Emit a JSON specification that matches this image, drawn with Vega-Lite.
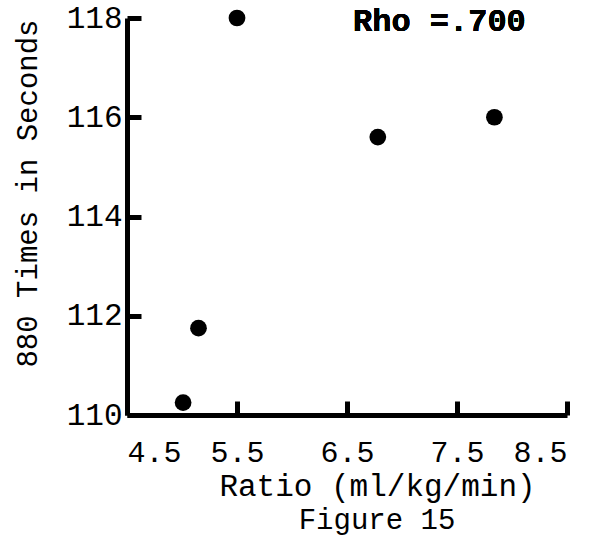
{
  "$schema": "https://vega.github.io/schema/vega-lite/v6.json",
  "width": 440,
  "height": 397,
  "autosize": "none",
  "padding": {"left": 127, "top": 18, "right": 31, "bottom": 129},
  "background": "white",
  "config": {
    "view": {"stroke": null},
    "font": "Liberation Mono",
    "title": {"font": "Liberation Mono", "fontSize": 29, "fontWeight": "normal", "color": "black"}
  },
  "title": {"text": "Figure 15", "orient": "bottom", "anchor": "middle", "offset": 5, "dx": 30},
  "data": {
    "values": [
      {"ratio": 5.01, "time": 110.25},
      {"ratio": 5.15, "time": 111.75},
      {"ratio": 5.5, "time": 118.0},
      {"ratio": 6.78, "time": 115.6},
      {"ratio": 7.84, "time": 116.0}
    ]
  },
  "layer": [
    {
      "mark": {"type": "point", "filled": true, "color": "black", "opacity": 1, "size": 280},
      "encoding": {
        "x": {
          "field": "ratio", "type": "quantitative",
          "scale": {"domain": [4.5, 8.5], "nice": false, "zero": false},
          "axis": {
            "values": [4.5, 5.5, 6.5, 7.5, 8.5],
            "format": ".1f",
            "grid": false,
            "domainColor": "black", "domainWidth": 5,
            "tickColor": "black", "tickWidth": 5, "tickSize": -14,
            "labelFont": "Liberation Mono", "labelFontSize": 30, "labelColor": "black",
            "labelPadding": 36,
            "labelBaseline": "top",
            "title": "Ratio (ml/kg/min)",
            "titleFont": "Liberation Mono", "titleFontSize": 31, "titleFontWeight": "normal", "titleColor": "black",
            "titlePadding": 4, "titleX": 250
          }
        },
        "y": {
          "field": "time", "type": "quantitative",
          "scale": {"domain": [110, 118], "nice": false, "zero": false},
          "axis": {
            "values": [110, 112, 114, 116, 118],
            "format": "d",
            "grid": false,
            "domainColor": "black", "domainWidth": 5,
            "tickColor": "black", "tickWidth": 5, "tickSize": -14,
            "labelFont": "Liberation Mono", "labelFontSize": 31, "labelColor": "black",
            "labelPadding": 19,
            "title": "880 Times in Seconds",
            "titleFont": "Liberation Mono", "titleFontSize": 29, "titleFontWeight": "normal", "titleColor": "black",
            "titleAnchor": "middle", "titleY": 175, "titleX": -100, "titleBaseline": "middle"
          }
        }
      }
    },
    {
      "mark": {"type": "text", "font": "Liberation Mono", "fontSize": 32, "fontWeight": "bold", "color": "black", "align": "center", "baseline": "middle"},
      "encoding": {
        "x": {"datum": 7.34},
        "y": {"datum": 117.94},
        "text": {"value": "Rho =.700"}
      }
    }
  ]
}
